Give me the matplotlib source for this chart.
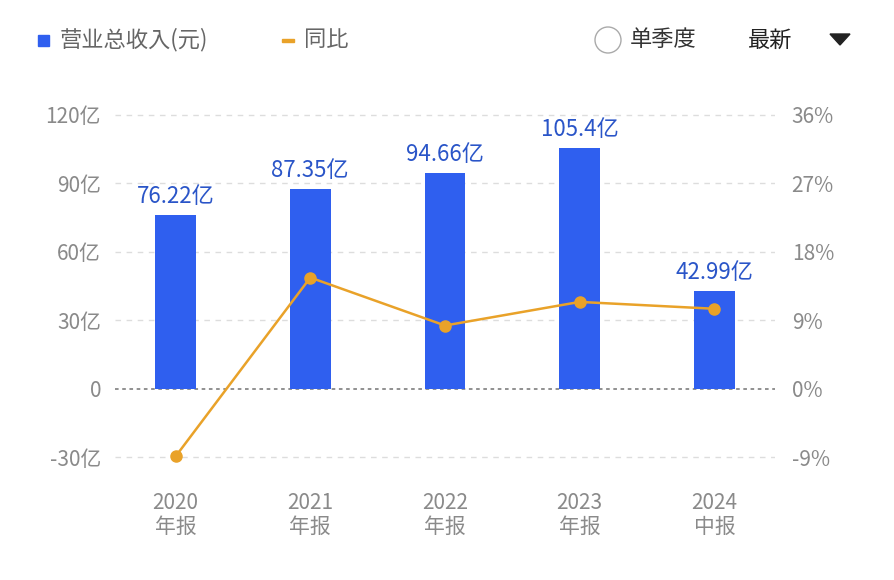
import matplotlib
matplotlib.use("Agg")
import matplotlib.pyplot as plt
from matplotlib import font_manager as fm

cjk = [f.name for f in fm.fontManager.ttflist if 'CJK' in f.name]
pref = [n for n in ["Noto Sans CJK SC", "Noto Sans CJK JP"] if n in cjk] or cjk
plt.rcParams['font.family'] = 'sans-serif'
plt.rcParams['font.sans-serif'] = pref + ['DejaVu Sans']

categories = ["2020\n年报", "2021\n年报", "2022\n年报", "2023\n年报", "2024\n中报"]
revenue = [76.22, 87.35, 94.66, 105.4, 42.99]
rev_labels = ["76.22亿", "87.35亿", "94.66亿", "105.4亿", "42.99亿"]
yoy = [-8.9, 14.6, 8.3, 11.4, 10.5]
left_ticks = [-30, 0, 30, 60, 90, 120]
left_labels = ["-30亿", "0", "30亿", "60亿", "90亿", "120亿"]
right_ticks = [-9, 0, 9, 18, 27, 36]
right_labels = ["-9%", "0%", "9%", "18%", "27%", "36%"]

W, H = 895, 580
fig = plt.figure(figsize=(W/100, H/100), dpi=100)
ax = fig.add_axes([115/W, 0.2, 660/W, 0.614])
bar_c = "#2f5fef"; line_c = "#e9a229"; grey = "#8a8a8a"

x = list(range(len(categories)))
ax.bar(x, revenue, width=0.3, color=bar_c, zorder=2)
for xi, v, t in zip(x, revenue, rev_labels):
    ax.text(xi, v + 3, t, ha='center', va='bottom', fontsize=16, color="#2a55c8")
ax.set_ylim(-33, 123)
ax.set_xlim(-0.45, 4.45)
ax.set_yticks(left_ticks)
ax.set_yticklabels(left_labels)
for t in left_ticks:
    if t == 0:
        ax.axhline(0, color="#888888", ls=(0, (2, 2)), lw=1.3, zorder=1)
    else:
        ax.axhline(t, color="#dddddd", ls=(0, (4, 4)), lw=1, zorder=1)
ax.set_xticks(x)
ax.set_xticklabels(categories, fontsize=15, color=grey, linespacing=1.1)
ax.tick_params(axis='y', labelsize=15, colors=grey, length=0, pad=10)
ax.tick_params(axis='x', length=0, pad=20)
for s in ax.spines.values():
    s.set_visible(False)

ax2 = ax.twinx()
ax2.set_ylim(-33*0.3, 123*0.3)
ax2.plot(x, yoy, color=line_c, lw=1.8, marker='o', ms=8, zorder=3)
ax2.set_yticks(right_ticks)
ax2.set_yticklabels(right_labels)
ax2.tick_params(axis='y', labelsize=15, colors=grey, length=0, pad=12)
for s in ax2.spines.values():
    s.set_visible(False)

fig.patches.append(matplotlib.patches.Rectangle((38/W, 1-46/H), 11/W, 11/H, transform=fig.transFigure, color=bar_c))
fig.text(60/W, 1-40/H, "营业总收入(元)", fontsize=16, color="#666666", va='center')
fig.patches.append(matplotlib.patches.Rectangle((282/W, 1-42/H), 12/W, 3/H, transform=fig.transFigure, color=line_c))
fig.text(304/W, 1-40/H, "同比", fontsize=16, color="#666666", va='center')
fig.patches.append(matplotlib.patches.Ellipse((608/W, 1-40/H), 26/W, 26/H, transform=fig.transFigure, fill=False, ec="#aaaaaa", lw=1))
fig.text(630/W, 1-40/H, "单季度", fontsize=16, color="#333333", va='center')
fig.text(748/W, 1-40/H, "最新", fontsize=16, color="#222222", va='center')
fig.patches.append(matplotlib.patches.Polygon([(830/W, 1-34/H), (850/W, 1-34/H), (840/W, 1-45/H)], closed=True, transform=fig.transFigure, color="#222222"))

fig.savefig("out.png", dpi=100)
